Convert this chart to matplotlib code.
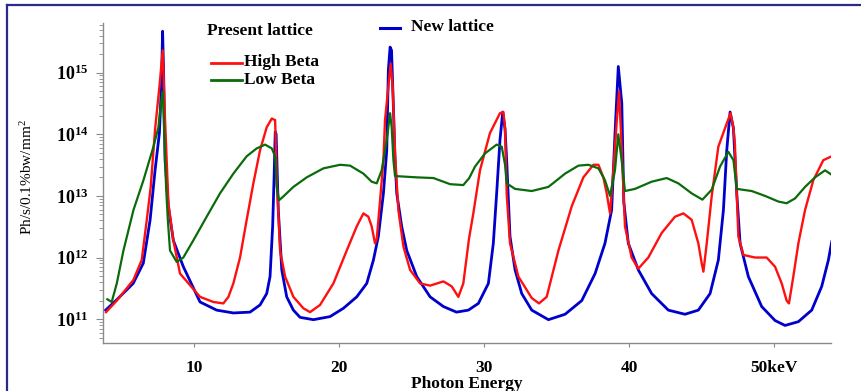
import matplotlib
matplotlib.use("Agg")
import matplotlib.pyplot as plt
from matplotlib.lines import Line2D

plt.rcParams['font.family'] = ['Liberation Serif', 'DejaVu Serif']
plt.rcParams['mathtext.fontset'] = 'custom'
plt.rcParams['mathtext.rm'] = 'Liberation Serif'
plt.rcParams['mathtext.bf'] = 'Liberation Serif:bold'
plt.rcParams['mathtext.it'] = 'Liberation Serif:italic'

# New lattice (blue)
new_x = [3.9, 4.7, 5.8, 6.5, 6.97, 7.31, 7.61, 7.75, 7.83, 7.9, 8.0, 8.23, 8.57, 9.26,
         10.41, 11.56, 12.71, 13.86, 14.55, 15.01, 15.24, 15.42, 15.52, 15.6, 15.66, 15.81,
         16.05, 16.39, 16.85, 17.31, 18.23, 19.38, 20.3, 21.22, 21.91, 22.37, 22.71, 23.06,
         23.29, 23.4, 23.52, 23.62, 23.74, 23.86, 23.98, 24.32, 24.67, 25.36, 26.28, 27.2,
         28.1, 28.92, 29.61, 30.3, 30.64, 30.87, 31.1, 31.29, 31.45, 31.56, 31.79, 32.14,
         32.6, 33.29, 34.44, 35.59, 36.74, 37.66, 38.34, 38.8, 39.03, 39.26, 39.5, 39.64,
         39.95, 40.64, 41.56, 42.71, 43.86, 44.78, 45.59, 46.16, 46.51, 46.74, 46.97, 47.2,
         47.43, 47.66, 48.23, 49.15, 50.07, 50.76, 51.68, 52.6, 53.29, 53.75, 53.98]
new_y = [1.4e11, 2.1e11, 3.8e11, 8.1e11, 4.1e12, 2.6e13, 1.05e14, 6.3e14, 4.7e15, 1.0e15,
         3.8e13, 6.6e12, 1.9e12, 7.1e11, 1.9e11, 1.4e11, 1.26e11, 1.3e11, 1.7e11, 2.6e11,
         4.9e11, 3.2e12, 2.0e13, 1.1e14, 1.0e14, 5.9e12, 6.3e11, 2.3e11, 1.4e11, 1.07e11,
         9.8e10, 1.1e11, 1.5e11, 2.3e11, 3.8e11, 9.1e11, 2.2e12, 1.1e13, 5.5e13, 1.1e15,
         2.6e15, 2.3e15, 3.2e14, 4.0e13, 1.1e13, 3.2e12, 1.3e12, 4.9e11, 2.3e11, 1.6e11,
         1.3e11, 1.4e11, 1.8e11, 3.8e11, 1.7e12, 1.1e13, 8.1e13, 2.3e14, 1.2e14, 3.8e13,
         2.2e12, 6.3e11, 2.6e11, 1.4e11, 9.8e10, 1.2e11, 2.0e11, 5.5e11, 1.7e12, 5.9e12,
         1.0e14, 1.26e15, 3.2e14, 7.9e12, 1.7e12, 6.3e11, 2.6e11, 1.4e11, 1.2e11, 1.4e11,
         2.6e11, 9.1e11, 5.9e12, 5.5e13, 2.3e14, 1.26e14, 1.1e13, 1.7e12, 4.9e11, 1.6e11,
         9.5e10, 7.9e10, 9.1e10, 1.4e11, 3.4e11, 9.1e11, 1.8e12]

# Present lattice, high beta (red)
high_x = [3.93, 4.67, 5.81, 6.39, 6.74, 7.01, 7.31, 7.61, 7.84, 8.0, 8.23, 8.57, 9.03,
          10.41, 11.33, 12.02, 12.37, 12.71, 13.17, 13.63, 14.09, 14.55, 15.01, 15.36, 15.59,
          15.7, 15.93, 16.28, 16.85, 17.54, 18.0, 18.69, 19.61, 20.53, 21.22, 21.68, 22.02,
          22.25, 22.48, 22.6, 22.83, 23.06, 23.17, 23.4, 23.56, 23.7, 23.86, 24.09, 24.44,
          24.9, 25.59, 26.28, 27.2, 27.77, 28.23, 28.57, 28.96, 29.26, 29.72, 30.41, 31.1,
          31.33, 31.45, 31.56, 31.79, 32.37, 33.29, 33.79, 34.32, 35.13, 36.05, 36.85, 37.54,
          37.89, 38.23, 38.46, 38.69, 38.92, 39.15, 39.31, 39.49, 39.72, 40.18, 40.64, 41.33,
          42.25, 43.17, 43.75, 44.32, 44.78, 45.01, 45.13, 45.36, 45.7, 46.16, 46.74, 47.0,
          47.2, 47.3, 47.54, 47.89, 48.69, 49.49, 50.07, 50.53, 50.87, 51.03, 51.33, 51.68,
          52.14, 52.71, 53.4, 53.98]
high_y = [1.3e11, 2.0e11, 4.3e11, 9.1e11, 4.1e12, 1.4e13, 1.2e14, 5.9e14, 2.3e15, 1.7e14,
          7.6e12, 1.9e12, 5.5e11, 2.3e11, 1.9e11, 1.8e11, 2.3e11, 3.8e11, 1.0e12, 4.1e12,
          1.6e13, 5.5e13, 1.3e14, 1.8e14, 1.7e14, 2.0e13, 1.3e12, 4.9e11, 2.3e11, 1.5e11,
          1.3e11, 1.7e11, 3.8e11, 1.3e12, 3.2e12, 5.2e12, 4.6e12, 3.2e12, 1.7e12, 2.0e12,
          8.5e12, 3.8e13, 1.7e14, 5.9e14, 1.4e15, 5.9e14, 4.9e13, 5.9e12, 1.5e12, 6.3e11,
          3.8e11, 3.5e11, 4.1e11, 3.4e11, 2.3e11, 3.8e11, 2.0e12, 5.2e12, 2.6e13, 1.05e14,
          2.2e14, 2.3e14, 1.26e14, 1.1e13, 1.7e12, 4.9e11, 2.2e11, 1.8e11, 2.3e11, 1.3e12,
          6.8e12, 2.0e13, 3.2e13, 3.2e13, 2.0e13, 1.1e13, 5.2e12, 2.6e13, 1.6e14, 5.0e14,
          6.3e13, 3.2e12, 1.0e12, 6.6e11, 1.0e12, 2.5e12, 4.6e12, 5.2e12, 4.1e12, 1.7e12,
          8.1e11, 5.9e11, 1.7e12, 9.8e12, 6.3e13, 1.5e14, 2.2e14, 1.26e14, 7.1e13, 2.2e12,
          1.1e12, 1.0e12, 1.0e12, 7.1e11, 3.8e11, 2.0e11, 1.8e11, 4.9e11, 1.7e12, 5.9e12,
          1.8e13, 3.8e13, 4.4e13]

# Present lattice, low beta (green)
low_x = [4.02, 4.32, 4.67, 5.13, 5.82, 6.51, 7.2, 7.54, 7.72, 7.84, 7.95, 8.07, 8.19,
         8.34, 8.8, 9.26, 9.95, 10.87, 11.79, 12.71, 13.63, 14.32, 14.9, 15.36, 15.59, 15.7,
         15.86, 16.16, 16.85, 17.77, 18.92, 20.07, 20.76, 21.68, 22.25, 22.6, 22.94, 23.29,
         23.52, 23.63, 23.75, 23.86, 25.36, 26.51, 27.66, 28.57, 28.98, 29.38, 30.07, 30.87,
         31.22, 31.45, 31.56, 32.14, 33.29, 34.44, 35.59, 36.51, 37.2, 37.89, 38.34, 38.69,
         39.03, 39.26, 39.49, 39.72, 40.41, 41.56, 42.6, 43.4, 44.32, 45.06, 45.7, 46.28,
         46.85, 47.2, 47.43, 48.46, 49.38, 50.3, 50.87, 51.45, 52.14, 52.83, 53.52, 53.98]
low_y = [2.1e11, 1.9e11, 3.8e11, 1.3e12, 5.9e12, 1.8e13, 6.3e13, 1.3e14, 3.2e14, 4.9e14,
         9.1e13, 1.4e13, 4.1e12, 1.3e12, 8.5e11, 1.0e12, 1.9e12, 4.6e12, 1.1e13, 2.3e13,
         4.4e13, 5.9e13, 6.8e13, 5.9e13, 4.4e13, 1.4e13, 8.5e12, 9.8e12, 1.4e13, 2.0e13,
         2.8e13, 3.2e13, 3.1e13, 2.3e13, 1.7e13, 1.6e13, 2.6e13, 8.1e13, 2.2e14, 1.3e14,
         3.8e13, 2.1e13, 2.0e13, 1.95e13, 1.55e13, 1.5e13, 1.95e13, 3.0e13, 4.9e13, 6.8e13,
         6.3e13, 3.2e13, 1.6e13, 1.3e13, 1.2e13, 1.4e13, 2.3e13, 3.1e13, 3.2e13, 2.8e13,
         1.8e13, 1.0e13, 2.6e13, 1.0e14, 3.8e13, 1.2e13, 1.3e13, 1.7e13, 1.95e13, 1.6e13,
         1.1e13, 8.7e12, 1.26e13, 3.0e13, 5.2e13, 3.8e13, 1.3e13, 1.2e13, 1.0e13, 8.1e12,
         7.6e12, 9.1e12, 1.4e13, 2.0e13, 2.6e13, 2.2e13]

x_ticks = [10, 20, 30, 40, 50]
x_tick_labels = ['10', '20', '30', '40', '50keV']
y_ticks = [1e11, 1e12, 1e13, 1e14, 1e15]
y_tick_labels = [r'$\mathbf{10^{11}}$', r'$\mathbf{10^{12}}$', r'$\mathbf{10^{13}}$',
                 r'$\mathbf{10^{14}}$', r'$\mathbf{10^{15}}$']

W, H = 862, 391
fig = plt.figure(figsize=(W / 100, H / 100), dpi=100)
ax = fig.add_axes([103.3 / W, 1 - 343 / H, (831 - 103.3) / W, (343 - 23) / H])

blue = '#0000cc'
red = '#ff1010'
green = '#0b6b0b'

ax.plot(new_x, new_y, color=blue, lw=2.0)
ax.plot(high_x, high_y, color=red, lw=1.7)
ax.plot(low_x, low_y, color=green, lw=1.6)

ax.set_yscale('log')
ax.set_xlim(3.74, 53.93)
ax.set_ylim(4.1e10, 6.4e15)

ax.set_xticks(x_ticks)
ax.set_xticklabels(x_tick_labels, fontweight='bold', fontsize=12.5)
ax.set_yticks(y_ticks)
ax.set_yticklabels(y_tick_labels, fontsize=13)
ax.xaxis.set_minor_locator(matplotlib.ticker.NullLocator())

for s in ['top', 'right']:
    ax.spines[s].set_visible(False)
for s in ['left', 'bottom']:
    ax.spines[s].set_color('#8a8a8a')
    ax.spines[s].set_linewidth(1.0)
ax.tick_params(axis='x', colors='#8a8a8a', labelcolor='black', length=3, pad=9)
ax.tick_params(axis='y', which='major', colors='#8a8a8a', labelcolor='black', length=5, pad=6)
ax.tick_params(axis='y', which='minor', colors='#8a8a8a', length=3)

ax.set_xlabel('Photon Energy', fontweight='bold', fontsize=12.5, labelpad=0)
fig.text(27 / W, 1 - 177 / H, r'Ph/s/0.1%bw/mm$^{2}$', rotation=90, fontsize=11,
         ha='center', va='center')

# legend-like labels
fig.text(207 / W, 1 - 31 / H, 'Present lattice', fontweight='bold', fontsize=12.5, va='center')
fig.add_artist(Line2D([380 / W, 400 / W], [1 - 27.5 / H, 1 - 27.5 / H], color=blue, lw=2.2))
fig.text(411 / W, 1 - 27 / H, 'New lattice', fontweight='bold', fontsize=12.5, va='center')
fig.add_artist(Line2D([211 / W, 242 / W], [1 - 62.5 / H, 1 - 62.5 / H], color=red, lw=2))
fig.text(244 / W, 1 - 62 / H, 'High Beta', fontweight='bold', fontsize=12.5, va='center')
fig.add_artist(Line2D([211 / W, 242 / W], [1 - 80 / H, 1 - 80 / H], color=green, lw=2))
fig.text(244 / W, 1 - 79.5 / H, 'Low Beta', fontweight='bold', fontsize=12.5, va='center')

# slide frame
border = '#2a2a8a'
fig.add_artist(Line2D([7.5 / W, 1.0], [1 - 5 / H, 1 - 5 / H], color=border, lw=1.6))
fig.add_artist(Line2D([7.5 / W, 7.5 / W], [0.0, 1 - 5 / H], color=border, lw=1.6))

fig.savefig('out.png', dpi=100)
